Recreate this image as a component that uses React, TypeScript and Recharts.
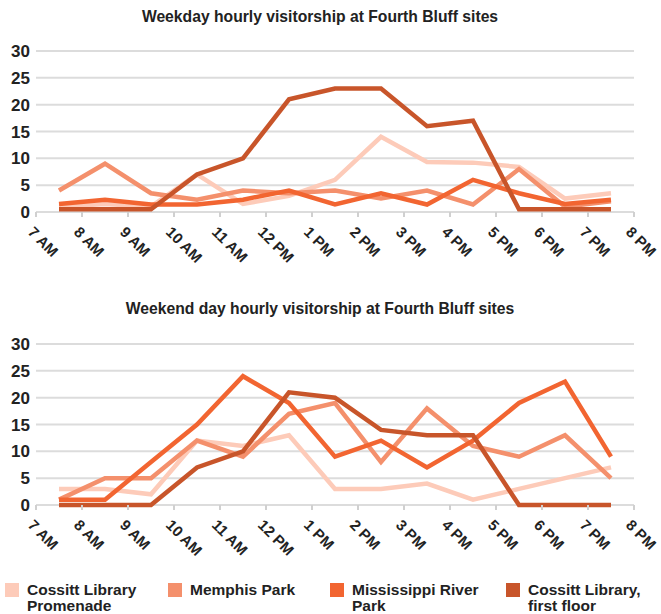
import React from 'react';
import { LineChart, Line, XAxis, YAxis, CartesianGrid } from 'recharts';

const hours = [7.5, 8.5, 9.5, 10.5, 11.5, 12.5, 13.5, 14.5, 15.5, 16.5, 17.5, 18.5, 19.5];
const hourTicks = [7, 8, 9, 10, 11, 12, 13, 14, 15, 16, 17, 18, 19, 20];
const valueTicks = [0, 5, 10, 15, 20, 25, 30];

const seriesNames = [
  'Cossitt Library Promenade',
  'Memphis Park',
  'Mississippi River Park',
  'Cossitt Library, first floor',
];

const weekdayPromenade = [1, 1.5, 1, 7, 1.5, 3, 6, 14, 9.3, 9.2, 8.4, 2.5, 3.5];
const weekdayMemphis = [4, 9, 3.5, 2.3, 4, 3.5, 4, 2.5, 4, 1.4, 8, 1, 2];
const weekdayRiver = [1.5, 2.3, 1.4, 1.4, 2.3, 4, 1.4, 3.5, 1.4, 6, 3.5, 1.5, 2.3];
const weekdayFirstFloor = [0.5, 0.5, 0.5, 7, 10, 21, 23, 23, 16, 17, 0.5, 0.5, 0.5];

const weekendPromenade = [3, 3, 2, 12, 11, 13, 3, 3, 4, 1, 3, 5, 7];
const weekendMemphis = [1, 5, 5, 12, 9, 17, 19, 8, 18, 11, 9, 13, 5];
const weekendRiver = [1, 1, 8, 15, 24, 19, 9, 12, 7, 12, 19, 23, 9];
const weekendFirstFloor = [0, 0, 0, 7, 10, 21, 20, 14, 13, 13, 0, 0, 0];

const colors = ['#FDCBB9', '#F4906C', '#F26531', '#C8552A'];
const keys = ['promenade', 'memphis', 'river', 'firstFloor'];

const FONT = '"Liberation Sans", Arial, sans-serif';

function buildRows(a: number[], b: number[], c: number[], d: number[]) {
  return hours.map((h, i) => ({
    hour: h,
    promenade: a[i],
    memphis: b[i],
    river: c[i],
    firstFloor: d[i],
  }));
}

const weekdayData = buildRows(weekdayPromenade, weekdayMemphis, weekdayRiver, weekdayFirstFloor);
const weekendData = buildRows(weekendPromenade, weekendMemphis, weekendRiver, weekendFirstFloor);

function hourLabel(h: number) {
  if (h < 12) return `${h} AM`;
  if (h === 12) return '12 PM';
  return `${h - 12} PM`;
}

function HourTick(props: any) {
  const { x, y, payload } = props;
  const tx = x - 9;
  const ty = y + 14;
  return (
    <text
      x={tx}
      y={ty}
      transform={`rotate(45, ${tx}, ${ty})`}
      textAnchor="start"
      fill="#222"
      fontSize={15}
      fontWeight={700}
      fontFamily={FONT}
    >
      {hourLabel(payload.value)}
    </text>
  );
}

function VisitChart({ data, top, marginTop, marginBottom }: any) {
  return (
    <div style={{ position: 'absolute', left: 0, top }}>
      <LineChart
        width={661}
        height={290}
        data={data}
        margin={{ top: marginTop, right: 27, bottom: marginBottom, left: 0 }}
      >
        <CartesianGrid vertical={false} stroke="#dcdcdc" strokeWidth={2} />
        <XAxis
          dataKey="hour"
          type="number"
          domain={[7, 20]}
          ticks={hourTicks}
          interval={0}
          height={60}
          tick={<HourTick />}
          tickSize={5}
          tickLine={{ stroke: '#d0d0d0', strokeWidth: 2 }}
          axisLine={false}
        />
        <YAxis
          domain={[0, 30]}
          ticks={valueTicks}
          width={36}
          tickSize={6}
          tickMargin={0}
          tickLine={false}
          axisLine={false}
          tick={{ fill: '#222', fontSize: 17, fontWeight: 700, fontFamily: FONT }}
        />
        {keys.map((k, i) => (
          <Line
            key={k}
            dataKey={k}
            type="linear"
            stroke={colors[i]}
            strokeWidth={4.5}
            dot={false}
            activeDot={false}
            isAnimationActive={false}
          />
        ))}
      </LineChart>
    </div>
  );
}

const titleStyle: React.CSSProperties = {
  position: 'absolute',
  left: 0,
  width: 640,
  textAlign: 'center',
  fontFamily: FONT,
  fontWeight: 700,
  fontSize: 15.7,
  color: '#222',
};

const legendX = [5, 168, 330, 506];
const legendLines = [
  ['Cossitt Library', 'Promenade'],
  ['Memphis Park'],
  ['Mississippi River', 'Park'],
  ['Cossitt Library,', 'first floor'],
];

export default function App() {
  return (
    <div
      style={{
        position: 'absolute',
        left: 0,
        top: 0,
        width: 661,
        height: 614,
        background: '#fff',
        overflow: 'hidden',
      }}
    >
      <div style={{ ...titleStyle, top: 8 }}>Weekday hourly visitorship at Fourth Bluff sites</div>
      <VisitChart data={weekdayData} top={0} marginTop={51} marginBottom={18} />
      <div style={{ ...titleStyle, top: 300 }}>Weekend day hourly visitorship at Fourth Bluff sites</div>
      <VisitChart data={weekendData} top={290} marginTop={54} marginBottom={15} />
      {seriesNames.map((name, i) => (
        <div key={name} style={{ position: 'absolute', left: legendX[i], top: 583 }}>
          <div style={{ position: 'absolute', left: 0, top: 0, width: 14, height: 14, background: colors[i] }} />
          <div
            style={{
              position: 'absolute',
              left: 22,
              top: -1,
              whiteSpace: 'nowrap',
              fontFamily: FONT,
              fontWeight: 700,
              fontSize: 15.5,
              lineHeight: '15.5px',
              color: '#222',
            }}
          >
            {legendLines[i].map((l) => (
              <div key={l}>{l}</div>
            ))}
          </div>
        </div>
      ))}
    </div>
  );
}
